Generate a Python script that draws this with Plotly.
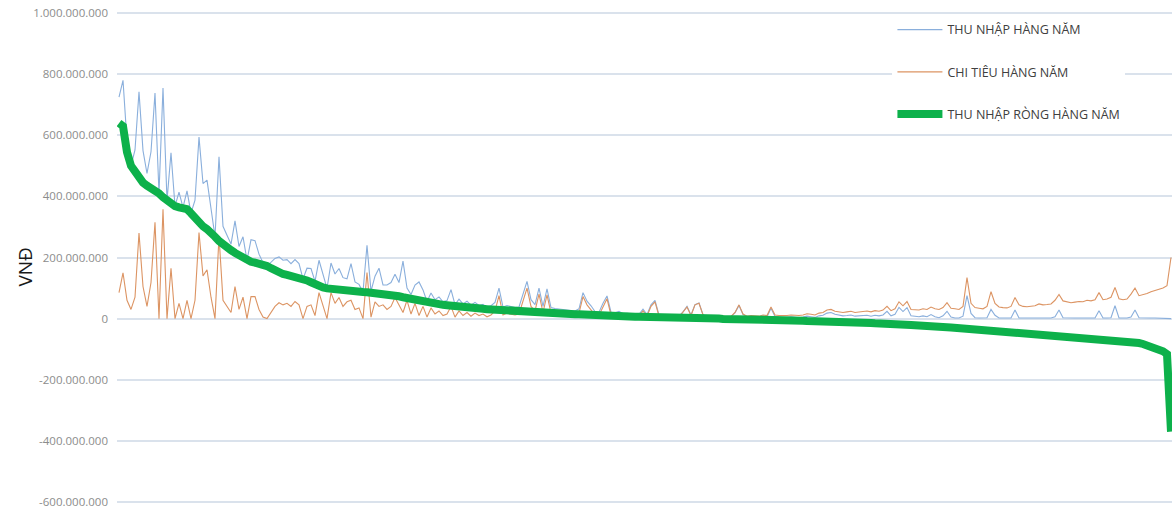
import plotly.graph_objects as go

# Households sorted by annual net income (rank order)
households = list(range(264))

# Values in million VND
net_income = [
    640, 630, 545, 500, 482, 462, 445, 435, 428, 423,
    410, 397, 386, 378, 368, 364, 364, 358, 345, 328,
    312, 302, 293, 283, 268, 254, 242, 233, 224, 215,
    206, 198, 191, 186, 183, 181, 178, 172, 165, 157,
    150, 146, 143, 140, 137, 135, 130, 125, 119, 112,
    106, 102, 99, 97, 96, 95, 94, 92, 91, 90,
    89, 87, 86, 85, 84, 82, 81, 80, 78, 76,
    73, 70, 67, 64, 60, 57, 54, 51, 49, 47,
    46, 45, 44, 42, 41, 39, 38, 37, 36, 35,
    33, 32, 31, 30, 28, 27, 26, 25, 25, 24,
    23, 23, 22, 22, 21, 20, 20, 19, 18, 18,
    17, 16, 16, 15, 14, 14, 13, 12, 12, 11,
    10, 10, 9, 9, 9, 8, 8, 7, 7, 6,
    6, 6, 5, 5, 5, 4, 4, 4, 3, 3,
    3, 2, 2, 2, 1, 1, 1, 0, 0, 0,
    0, -1, -1, -1, -1, -2, -2, -2, -3, -3,
    -3, -4, -4, -4, -5, -5, -5, -6, -6, -6,
    -7, -7, -8, -8, -8, -9, -9, -10, -10, -10,
    -11, -11, -12, -12, -12, -13, -13, -14, -14, -15,
    -15, -16, -16, -17, -18, -18, -19, -20, -21, -22,
    -22, -23, -24, -25, -26, -27, -27, -28, -29, -30,
    -31, -32, -33, -33, -34, -35, -36, -37, -38, -39,
    -40, -41, -42, -43, -44, -45, -46, -47, -48, -49,
    -50, -51, -52, -53, -54, -55, -56, -57, -58, -59,
    -60, -61, -62, -63, -64, -65, -66, -67, -68, -69,
    -70, -71, -73, -75, -77, -80, -83, -87, -91, -96,
    -101, -107, -116, -370,
]

expense = [
    85, 150, 60, 30, 70, 280, 105, 40, 118, 315,
    0, 358, 0, 165, 0, 50, 0, 60, 0, 60,
    282, 140, 160, 70, 0, 270, 60, 40, 20, 105,
    30, 70, 0, 72, 72, 30, 5, 0, 20, 40,
    52, 45, 50, 40, 56, 45, 0, 40, 45, 10,
    85, 40, 0, 85, 50, 69, 40, 55, 60, 30,
    35, 0, 151, 5, 55, 40, 45, 30, 40, 69,
    45, 20, 60, 15, 50, 10, 40, 5, 35, 15,
    25, 10, 15, 40, 5, 25, 10, 20, 8, 18,
    10, 15, 6, 12, 25, 75, 12, 18, 14, 12,
    15, 60, 100, 40, 25, 80, 20, 78, 18, 15,
    14, 14, 12, 12, 11, 18, 72, 45, 30, 12,
    11, 40, 65, 12, 10, 16, 8, 10, 8, 8,
    8, 25, 8, 40, 55, 8, 6, 8, 6, 7,
    5, 20, 38, 10, 45, 50, 12, 6, 8, 5,
    6, 8, 6, 7, 20, 45, 15, 8, 10, 9,
    8, 12, 10, 38, 12, 10, 9, 10, 12, 11,
    10, 12, 16, 14, 12, 18, 20, 28, 30, 24,
    22, 20, 22, 24, 20, 22, 24, 25, 22, 26,
    24, 28, 40, 26, 32, 55, 42, 56, 30, 30,
    28, 32, 30, 38, 32, 30, 36, 52, 34, 32,
    30, 40, 134, 50, 36, 34, 32, 40, 88, 50,
    38, 36, 35, 40, 69, 45, 40, 39, 40, 42,
    48, 45, 46, 48, 60, 79, 58, 55, 52, 54,
    56, 55, 60, 58, 62, 85, 62, 64, 70, 102,
    65, 62, 64, 80, 100, 75, 78, 82, 88, 92,
    96, 100, 108, 200,
]

income = [
    725, 780, 580, 500, 552, 742, 550, 475, 546, 738,
    410, 755, 386, 543, 368, 414, 364, 418, 345, 388,
    594, 442, 453, 353, 268, 530, 302, 273, 244, 320,
    236, 268, 191, 258, 255, 211, 183, 172, 185, 197,
    202, 191, 193, 180, 193, 180, 130, 165, 164, 122,
    191, 142, 99, 182, 146, 164, 134, 130, 180, 120,
    112, 87, 240, 90, 139, 165, 110, 110, 118, 145,
    118, 188, 100, 79, 110, 120, 94, 56, 84, 62,
    71, 55, 59, 95, 46, 64, 48, 57, 44, 53,
    43, 47, 37, 42, 53, 100, 38, 43, 39, 36,
    38, 83, 122, 62, 46, 100, 40, 97, 36, 33,
    31, 30, 28, 27, 25, 32, 85, 57, 42, 23,
    21, 50, 74, 21, 19, 24, 16, 17, 15, 14,
    14, 31, 13, 45, 60, 12, 10, 12, 9, 10,
    8, 22, 40, 12, 46, 51, 13, 6, 8, 5,
    6, 7, 5, 6, 19, 43, 13, 6, 7, 6,
    5, 8, 6, 34, 7, 5, 4, 4, 6, 5,
    3, 5, 8, 6, 4, 9, 11, 18, 20, 14,
    11, 9, 10, 12, 8, 9, 11, 11, 8, 11,
    9, 12, 24, 9, 14, 37, 23, 36, 9, 8,
    6, 9, 6, 13, 6, 3, 9, 24, 5, 2,
    2, 8, 75, 17, 3, 2, 2, 3, 30, 11,
    2, 2, 2, 2, 28, 2, 2, 2, 2, 3,
    2, 2, 2, 2, 6, 28, 3, 2, 2, 2,
    2, 2, 3, 2, 2, 26, 2, 2, 3, 42,
    2, 2, 2, 5, 28, 3, 2, 2, 2, 2,
    2, 2, 2, 0,
]

tick_values = [-600, -400, -200, 0, 200, 400, 600, 800, 1000]
tick_labels = ["-600.000.000", "-400.000.000", "-200.000.000", "0",
               "200.000.000", "400.000.000", "600.000.000", "800.000.000",
               "1.000.000.000"]

MIL = 1_000_000

fig = go.Figure()
fig.add_trace(go.Scatter(
    x=households, y=[v * MIL for v in income], mode="lines",
    name="THU NHẬP HÀNG NĂM", legendgroup="a",
    line=dict(color="#8aafdc", width=1.1),
))
fig.add_trace(go.Scatter(
    x=households, y=[v * MIL for v in expense], mode="lines",
    name="CHI TIÊU HÀNG NĂM", legendgroup="b",
    line=dict(color="#dc9463", width=1.1),
))
fig.add_trace(go.Scatter(
    x=households, y=[v * MIL for v in net_income], mode="lines",
    name="THU NHẬP RÒNG HÀNG NĂM", legendgroup="c",
    line=dict(color="#0db14b", width=8),
))

fig.update_layout(
    width=1172, height=510,
    margin=dict(l=117, r=0, t=10, b=5),
    paper_bgcolor="white", plot_bgcolor="white",
    font=dict(family="Open Sans, Arial, sans-serif"),
    showlegend=True,
    legend=dict(
        x=0.735, xanchor="left", y=0.99, yanchor="top",
        bgcolor="white", font=dict(size=12.5, color="#404040"),
        tracegroupgap=23, itemwidth=45,
    ),
    xaxis=dict(range=[-0.5, 263.25], visible=False, showgrid=False),
    yaxis=dict(
        range=[-610 * MIL, 1010 * MIL],
        tickvals=[v * MIL for v in tick_values], ticktext=tick_labels,
        showgrid=True, gridcolor="#dae2ec", gridwidth=1.5,
        zeroline=False, showline=False, ticks="",
        tickfont=dict(size=11.5, color="#8c8c8c"),
        ticklabelstandoff=8,
    ),
    annotations=[dict(
        text="VNĐ", xref="paper", yref="paper",
        x=-0.087, y=0.48, xanchor="center", yanchor="middle",
        textangle=-90, showarrow=False,
        font=dict(size=19, color="#1a1a1a", family="Open Sans, Arial, sans-serif"),
    )],
)

fig.write_html("out.html", config={"displayModeBar": False},
               post_script="document.body.style.margin='0px';")
